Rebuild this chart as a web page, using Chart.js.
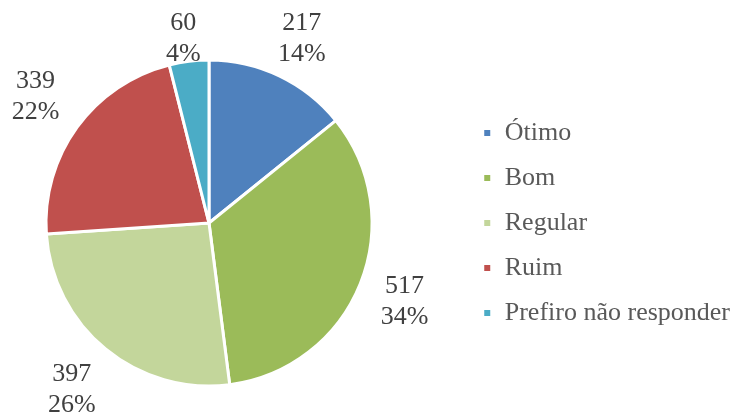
<!DOCTYPE html>
<html>
<head>
  <meta charset="utf-8">
  <title>Avaliação</title>
  <script src="https://cdn.jsdelivr.net/npm/chart.js"></script>
  <style>
    body { margin: 0; background: #fff; }
    #wrap { width: 740px; height: 416px; }
  </style>
</head>
<body>
  <div id="wrap"><canvas id="pieChart"></canvas></div>

  <script>
    const categories = ['Ótimo', 'Bom', 'Regular', 'Ruim', 'Prefiro não responder'];
    const counts = [217, 517, 397, 339, 60];
    const sliceColors = ['#4F81BD', '#9BBB59', '#C3D69B', '#C0504D', '#4BACC6'];

    const total = counts.reduce((a, b) => a + b, 0);

    // keep the pie left of centre, leaving the gap before the legend
    const pieArea = {
      id: 'pieArea',
      afterLayout(chart) {
        const area = chart.chartArea;
        area.right = area.left + 418;
        area.width = 418;
      }
    };

    // value + percent labels outside each slice
    const outLabels = {
      id: 'outLabels',
      afterDatasetsDraw(chart) {
        const ctx = chart.ctx;
        const meta = chart.getDatasetMeta(0);
        const lineH = 31;
        ctx.save();
        ctx.font = '26px "Liberation Serif", "Times New Roman", serif';
        ctx.fillStyle = '#404040';
        ctx.textAlign = 'center';
        ctx.textBaseline = 'middle';
        meta.data.forEach((arc, i) => {
          const p = arc.getProps(['x', 'y', 'startAngle', 'endAngle', 'outerRadius'], true);
          const mid = (p.startAngle + p.endAngle) / 2;
          const ux = Math.cos(mid), uy = Math.sin(mid);
          const lines = [String(counts[i]), Math.round(counts[i] / total * 100) + '%'];
          const w = Math.max(...lines.map(t => ctx.measureText(t).width));
          const h = lineH * 2;
          const dist = p.outerRadius + 14 + Math.abs(ux) * w / 2 + Math.abs(uy) * h / 2;
          const cx = p.x + ux * dist;
          let cy = p.y + uy * dist;
          cy = Math.max(cy, 39);
          ctx.fillText(lines[0], cx, cy - lineH / 2);
          ctx.fillText(lines[1], cx, cy + lineH / 2);
        });
        ctx.restore();
      }
    };

    new Chart(document.getElementById('pieChart'), {
      type: 'pie',
      data: {
        labels: categories,
        datasets: [{
          data: counts,
          backgroundColor: sliceColors,
          borderColor: '#ffffff',
          borderWidth: 3,
          radius: 163
        }]
      },
      options: {
        responsive: true,
        maintainAspectRatio: false,
        animation: false,
        layout: { padding: { left: 0, top: 30, right: 0, bottom: 0 } },
        plugins: {
          tooltip: { enabled: false },
          legend: {
            position: 'right',
            labels: {
              boxWidth: 9,
              boxHeight: 9,
              padding: 19,
              color: '#595959',
              font: { family: '"Liberation Serif", "Times New Roman", serif', size: 26 }
            }
          }
        }
      },
      plugins: [pieArea, outLabels]
    });
  </script>
</body>
</html>
